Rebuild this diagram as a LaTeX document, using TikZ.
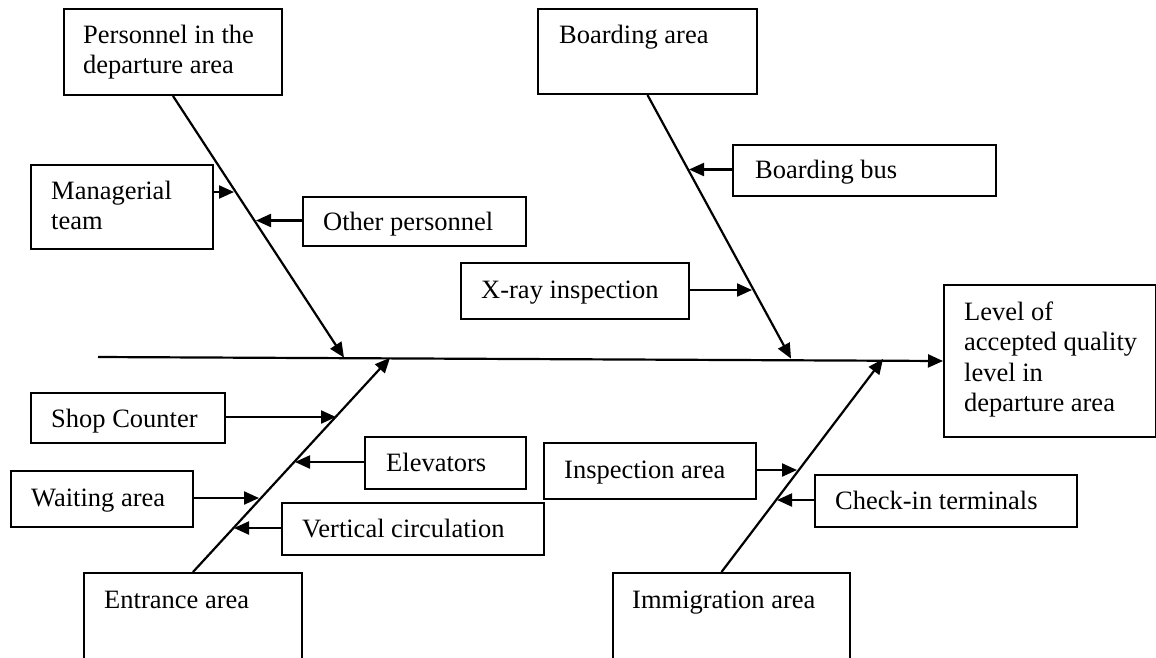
\documentclass[tikz,border=0pt]{standalone}
\usepackage{fontspec}
\setmainfont{Liberation Serif}
\usepackage{tikz}
\usetikzlibrary{arrows.meta}

\newcommand{\cell}[1]{\parbox[t]{230pt}{\raggedright #1}}

\begin{document}
\begin{tikzpicture}[x=1pt,y=-1pt,
  cbox/.style={draw, line width=2pt, anchor=north west, inner sep=0pt},
  txt/.style={anchor=base west, inner sep=0pt, font=\fontsize{26.5}{30.5}\selectfont},
  arr/.style={line width=2.2pt, -{Triangle[length=15pt,width=13pt]}}]
\useasboundingbox (0,0) rectangle (1156,657);
\clip (0,0) rectangle (1156,657);

% cause boxes
\node[cbox, minimum width=218pt, minimum height=86pt] (pers) at (63,8) {};
\node[cbox, minimum width=182pt, minimum height=84pt] (mgr) at (30,164) {};
\node[cbox, minimum width=223pt, minimum height=49pt] (oth) at (302,196) {};
\node[cbox, minimum width=219pt, minimum height=85pt] (brd) at (537,8) {};
\node[cbox, minimum width=263pt, minimum height=51pt] (bus) at (732,144) {};
\node[cbox, minimum width=228pt, minimum height=56pt] (xray) at (460,262) {};
\node[cbox, minimum width=212pt, minimum height=152pt] (lvl) at (943,284) {};
\node[cbox, minimum width=194pt, minimum height=50pt] (shop) at (30,392) {};
\node[cbox, minimum width=161pt, minimum height=52pt] (elev) at (364,436) {};
\node[cbox, minimum width=182pt, minimum height=56pt] (wait) at (10,470) {};
\node[cbox, minimum width=262pt, minimum height=52pt] (vert) at (281,502) {};
\node[cbox, minimum width=218pt, minimum height=120pt] (ent) at (83,572) {};
\node[cbox, minimum width=212pt, minimum height=56pt] (insp) at (543,442) {};
\node[cbox, minimum width=262pt, minimum height=52pt] (chk) at (814,474) {};
\node[cbox, minimum width=237pt, minimum height=120pt] (imm) at (612,572) {};

% texts
\node[txt] (persT) at ([shift={(20,35)}]pers.north west) {\cell{Personnel in the\\departure area}};
\node[txt] (mgrT) at ([shift={(21,35)}]mgr.north west) {\cell{Managerial\\team}};
\node[txt] (othT) at ([shift={(21,34)}]oth.north west) {\cell{Other personnel}};
\node[txt] (brdT) at ([shift={(22,35)}]brd.north west) {\cell{Boarding area}};
\node[txt] (busT) at ([shift={(23,34)}]bus.north west) {\cell{Boarding bus}};
\node[txt] (xrayT) at ([shift={(21,36)}]xray.north west) {\cell{X-ray inspection}};
\node[txt] (lvlT) at ([shift={(21,36)}]lvl.north west) {\cell{Level of\\accepted quality\\level in\\departure area}};
\node[txt] (shopT) at ([shift={(21,35)}]shop.north west) {\cell{Shop Counter}};
\node[txt] (elevT) at ([shift={(22,35)}]elev.north west) {\cell{Elevators}};
\node[txt] (waitT) at ([shift={(21,36)}]wait.north west) {\cell{Waiting area}};
\node[txt] (vertT) at ([shift={(21,35)}]vert.north west) {\cell{Vertical circulation}};
\node[txt] (entT) at ([shift={(21,36)}]ent.north west) {\cell{Entrance area}};
\node[txt] (inspT) at ([shift={(21,36)}]insp.north west) {\cell{Inspection area}};
\node[txt] (chkT) at ([shift={(21,35)}]chk.north west) {\cell{Check-in terminals}};
\node[txt] (immT) at ([shift={(20,36)}]imm.north west) {\cell{Immigration area}};

% spine and branches
\coordinate (s0) at (98,357);
\draw[arr] (s0) -- (lvl.west);

\coordinate (pTip) at (344,357.6);
\coordinate (bTip) at (791,358.6);
\coordinate (eTip) at (390,357.8);
\coordinate (iTip) at (883,359);
\draw[arr] (pers.south) -- (pTip);
\draw[arr] (brd.south) -- (bTip);
\draw[arr] (ent.north) -- (eTip);
\draw[arr] ([xshift=-10pt]imm.north) -- (iTip);

% small arrows onto the branches
\coordinate (mA) at (234,192);
\coordinate (oA) at (256,220.5);
\coordinate (busA) at (689,169.5);
\coordinate (xA) at (752,290);
\coordinate (shopA) at (336,417);
\coordinate (elevA) at (295,462);
\coordinate (waitA) at (259,498);
\coordinate (vertA) at (234,528);
\coordinate (inspA) at (797,470);
\coordinate (chkA) at (777,500);

\draw[arr] (mgr.east |- mA) -- (mA);
\draw[arr] (oth.west |- oA) -- (oA);
\draw[arr] (bus.west |- busA) -- (busA);
\draw[arr] (xray.east |- xA) -- (xA);
\draw[arr] (shop.east |- shopA) -- (shopA);
\draw[arr] (elev.west |- elevA) -- (elevA);
\draw[arr] (wait.east |- waitA) -- (waitA);
\draw[arr] (vert.west |- vertA) -- (vertA);
\draw[arr] (insp.east |- inspA) -- (inspA);
\draw[arr] (chk.west |- chkA) -- (chkA);
\end{tikzpicture}
\end{document}
